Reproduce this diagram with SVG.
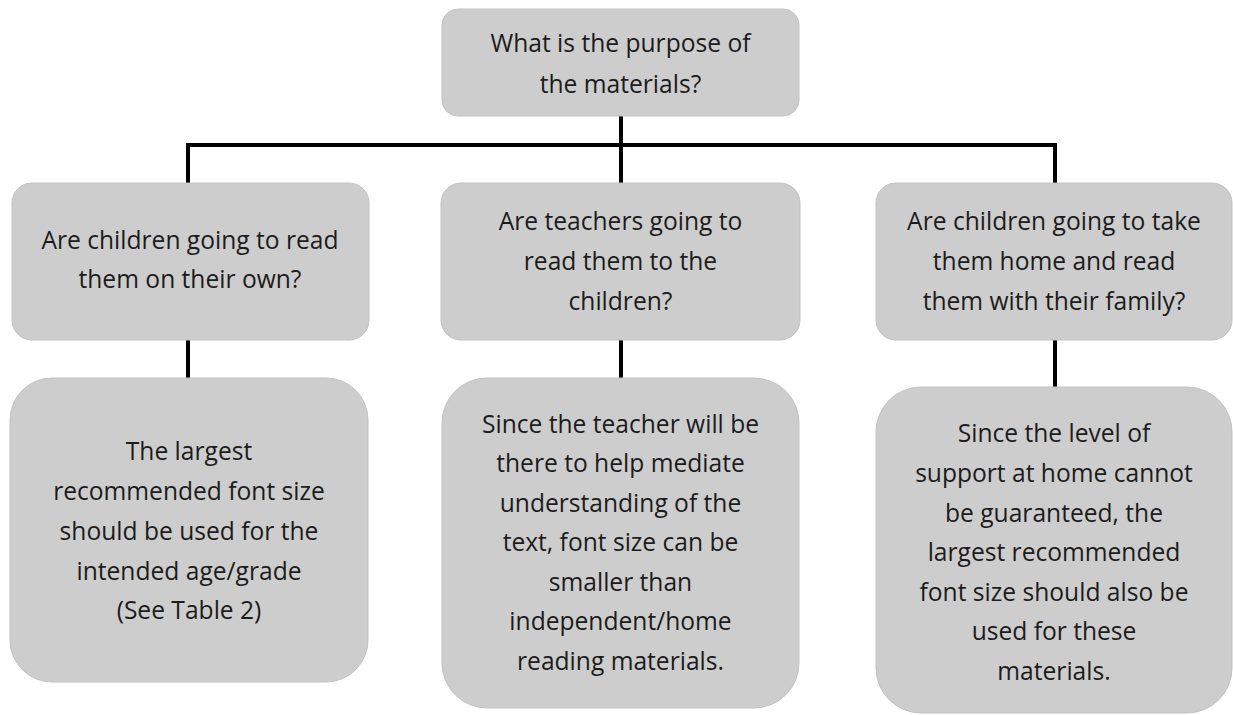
<svg xmlns="http://www.w3.org/2000/svg" width="1233" height="715" viewBox="0 0 1233 715">
<style>
.box{fill:#cdcdcd;stroke:#c2c2c2;stroke-width:1}
.t{font-family:"Open Sans","Liberation Sans",sans-serif;font-size:24.6px;fill:#1c1c1c;text-anchor:middle}
.c{stroke:#000;stroke-width:4;fill:none}
</style>
<rect width="1233" height="715" fill="#fff"/>
<g id="connectors">
<path class="c" d="M186 145H1057"/>
<path class="c" d="M621 116V183"/>
<path class="c" d="M188 145V183"/>
<path class="c" d="M1055 145V183"/>
<path class="c" d="M188 340V378"/>
<path class="c" d="M621 340V378"/>
<path class="c" d="M1055 340V387"/>
</g>
<g id="root">
<rect class="box" x="442" y="9" width="357" height="107" rx="16"/>
<text class="t" x="620.5" y="52">What is the purpose of</text>
<text class="t" x="620.5" y="93">the materials?</text>
</g>
<g id="q1">
<rect class="box" x="12" y="183" width="357" height="157" rx="20"/>
<text class="t" x="190" y="249">Are children going to read</text>
<text class="t" x="190" y="288">them on their own?</text>
</g>
<g id="q2">
<rect class="box" x="441" y="183" width="359" height="157" rx="20"/>
<text class="t" x="620.5" y="230">Are teachers going to</text>
<text class="t" x="620.5" y="270">read them to the</text>
<text class="t" x="620.5" y="310">children?</text>
</g>
<g id="q3">
<rect class="box" x="876" y="183" width="356" height="157" rx="20"/>
<text class="t" x="1054" y="230">Are children going to take</text>
<text class="t" x="1054" y="270">them home and read</text>
<text class="t" x="1054" y="310">them with their family?</text>
</g>
<g id="a1">
<rect class="box" x="10" y="378" width="358" height="304" rx="42"/>
<text class="t" x="189" y="460">The largest</text>
<text class="t" x="189" y="500">recommended font size</text>
<text class="t" x="189" y="540">should be used for the</text>
<text class="t" x="189" y="580">intended age/grade</text>
<text class="t" x="189" y="619">(See Table 2)</text>
</g>
<g id="a2">
<rect class="box" x="442" y="378" width="357" height="330" rx="45"/>
<text class="t" x="620.5" y="433">Since the teacher will be</text>
<text class="t" x="620.5" y="472">there to help mediate</text>
<text class="t" x="620.5" y="512">understanding of the</text>
<text class="t" x="620.5" y="551">text, font size can be</text>
<text class="t" x="620.5" y="591">smaller than</text>
<text class="t" x="620.5" y="630">independent/home</text>
<text class="t" x="620.5" y="670">reading materials.</text>
</g>
<g id="a3">
<rect class="box" x="876" y="387" width="356" height="326" rx="45"/>
<text class="t" x="1054" y="442">Since the level of</text>
<text class="t" x="1054" y="482">support at home cannot</text>
<text class="t" x="1054" y="522">be guaranteed, the</text>
<text class="t" x="1054" y="561">largest recommended</text>
<text class="t" x="1054" y="601">font size should also be</text>
<text class="t" x="1054" y="640">used for these</text>
<text class="t" x="1054" y="680">materials.</text>
</g>
</svg>
